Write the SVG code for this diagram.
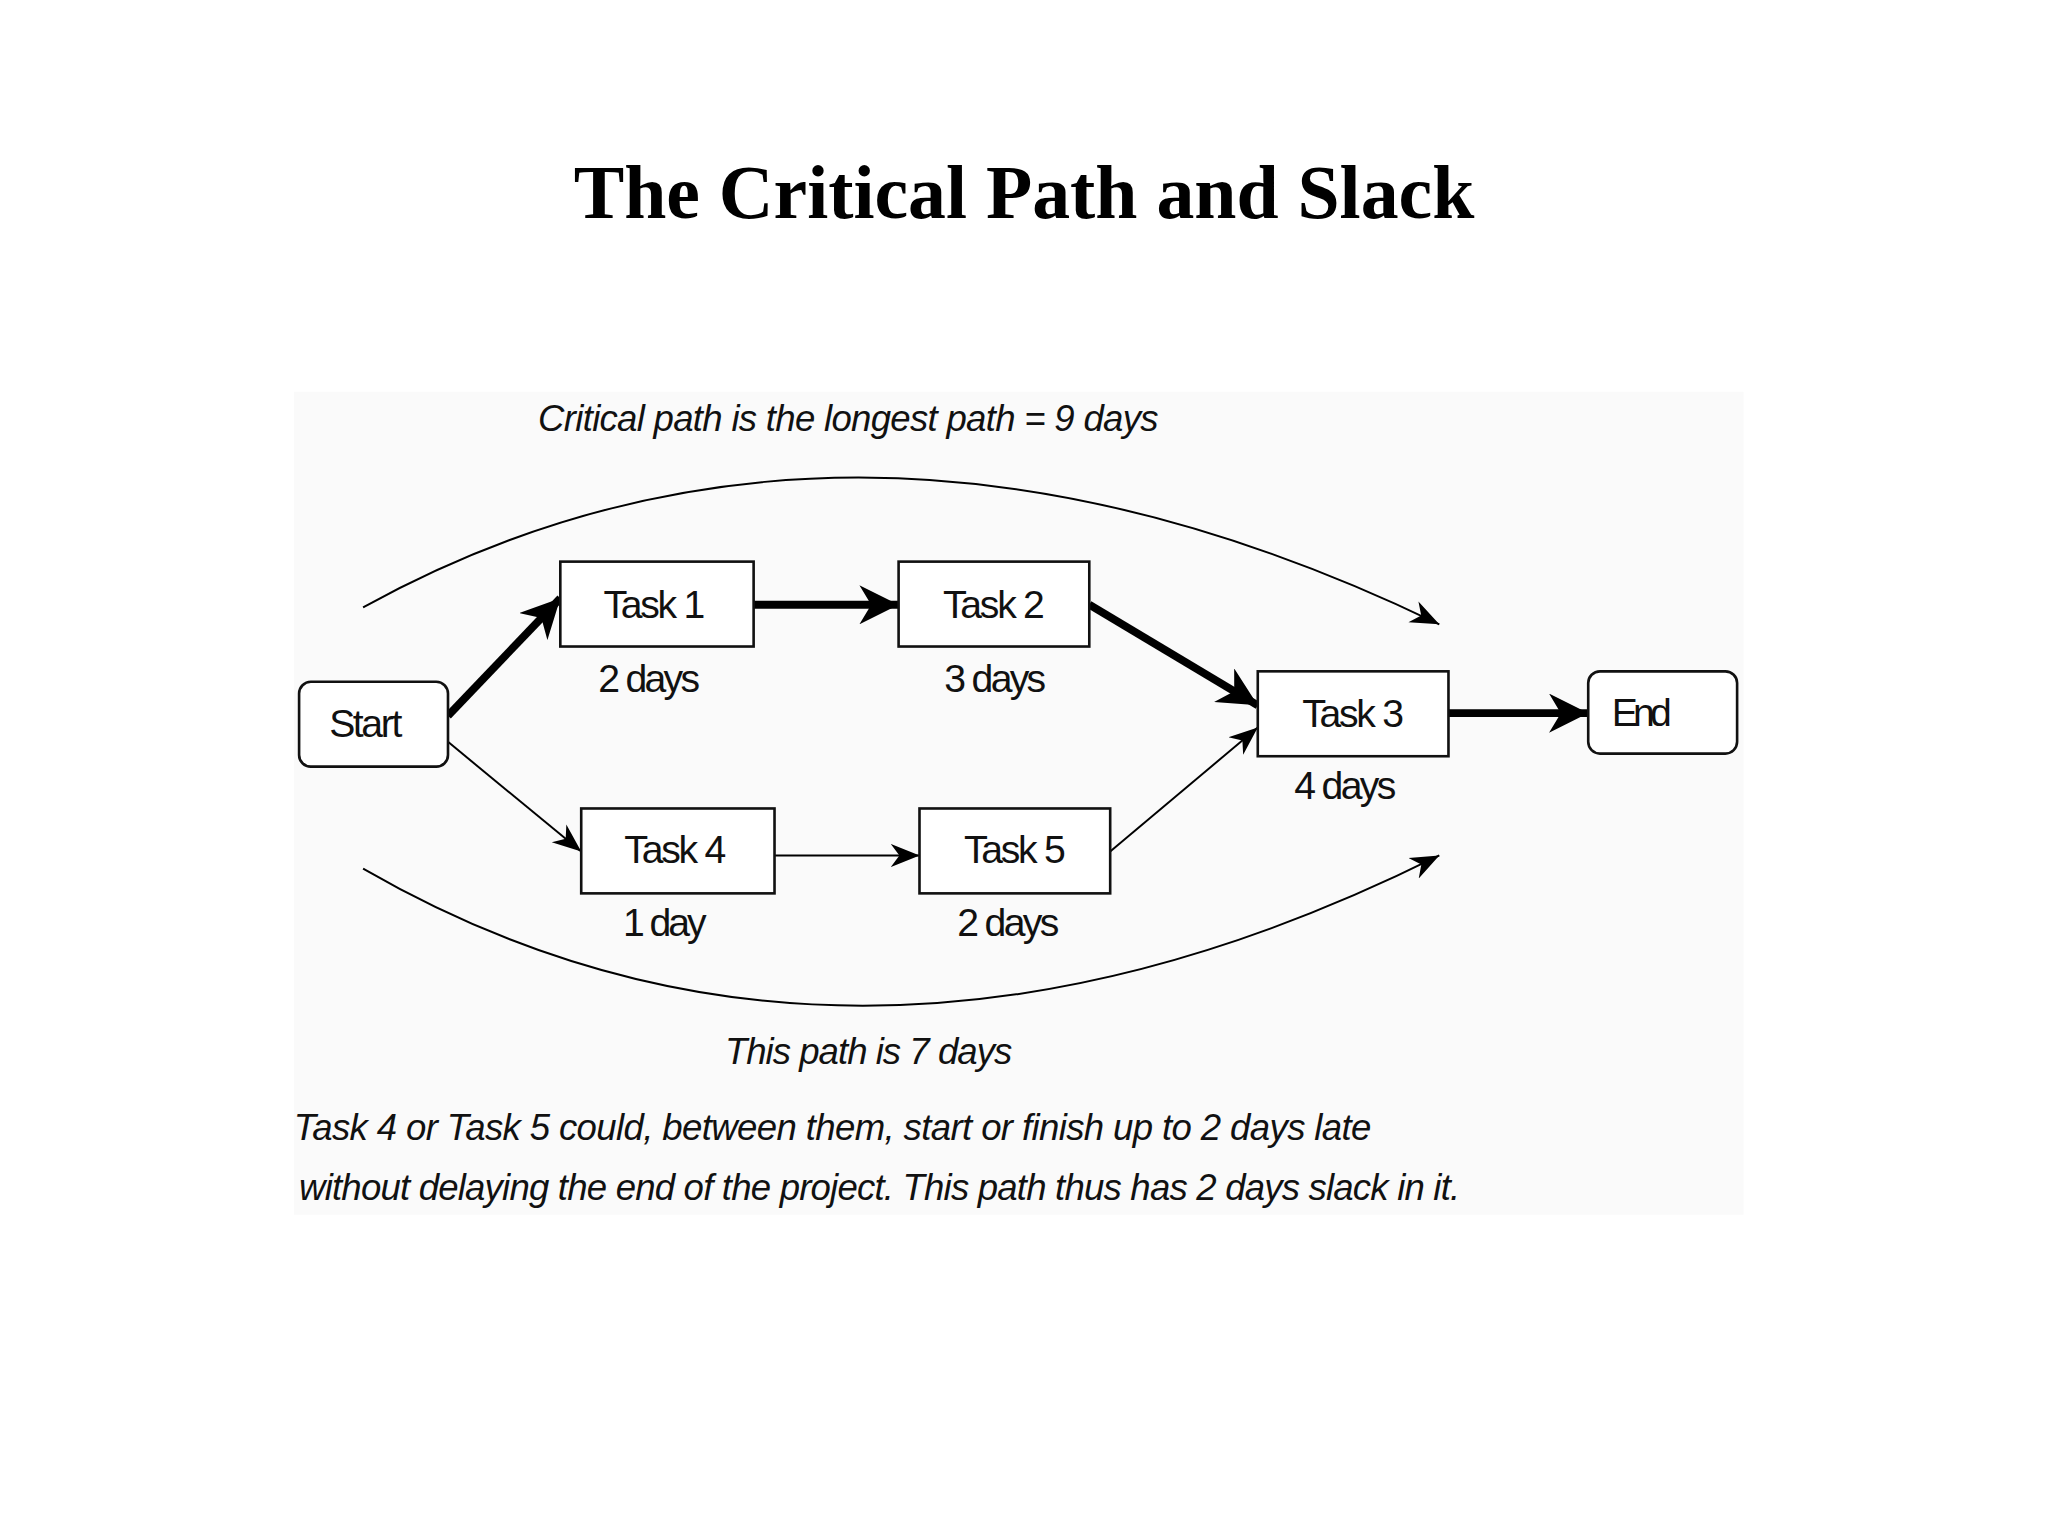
<svg xmlns="http://www.w3.org/2000/svg" width="2048" height="1536" viewBox="0 0 2048 1536">
<defs>
<style>
.b{fill:#fff;stroke:#111;stroke-width:2}
.t{font-family:"Liberation Sans",Arial,sans-serif;font-size:30px;fill:#111;text-anchor:middle}
.i{font-family:"Liberation Sans",Arial,sans-serif;font-size:28px;font-style:italic;fill:#111}
.thick{stroke:#000;stroke-width:6;fill:none}
.thin{stroke:#000;stroke-width:1.5;fill:none}
</style>
<marker id="ah" viewBox="0 0 10 10" refX="10" refY="5" markerWidth="5" markerHeight="5" orient="auto" markerUnits="strokeWidth"><path d="M0,0L10,5L0,10L3,5z" fill="#000"/></marker>
<marker id="as" viewBox="0 0 10 10" refX="10" refY="5" markerWidth="22" markerHeight="22" orient="auto" markerUnits="userSpaceOnUse"><path d="M0,1L10,5L0,9L3,5z" fill="#000"/></marker>
</defs>
<rect width="2048" height="1536" fill="#fff"/>
<g transform="scale(1.3061)">
<rect x="225" y="300" width="1110" height="630" fill="#fafafa"/>
<text x="784" y="167" text-anchor="middle" font-family="'Liberation Serif','DejaVu Serif',serif" font-weight="bold" font-size="58" fill="#000">The Critical Path and Slack</text>
<g id="connectors">
<line class="thick" x1="343" y1="548" x2="429" y2="458" marker-end="url(#ah)"/>
<line class="thick" x1="577" y1="463" x2="688" y2="463" marker-end="url(#ah)"/>
<line class="thick" x1="834" y1="463" x2="963" y2="540" marker-end="url(#ah)"/>
<line class="thick" x1="1109" y1="546" x2="1216" y2="546" marker-end="url(#ah)"/>
<line class="thin" x1="343" y1="568" x2="445" y2="652" marker-end="url(#as)"/>
<line class="thin" x1="593" y1="655" x2="704" y2="655" marker-end="url(#as)"/>
<line class="thin" x1="850" y1="652" x2="963" y2="557" marker-end="url(#as)"/>
<path class="thin" d="M278,465 Q650,260 1102,478" marker-end="url(#as)"/>
<path class="thin" d="M278,665 Q650,880 1102,655" marker-end="url(#as)"/>
</g>
<g id="start"><rect class="b" x="229" y="522" width="114" height="65" rx="9"/><text class="t" x="280" y="564" textLength="56">Start</text></g>
<g id="task1"><rect class="b" x="429" y="430" width="148" height="65"/><text class="t" x="501" y="473" textLength="78">Task 1</text><text class="t" x="497" y="530" textLength="78">2 days</text></g>
<g id="task2"><rect class="b" x="688" y="430" width="146" height="65"/><text class="t" x="761" y="473" textLength="78">Task 2</text><text class="t" x="762" y="530" textLength="78">3 days</text></g>
<g id="task3"><rect class="b" x="963" y="514" width="146" height="65"/><text class="t" x="1036" y="557" textLength="78">Task 3</text><text class="t" x="1030" y="612" textLength="78">4 days</text></g>
<g id="end"><rect class="b" x="1216" y="514" width="114" height="63" rx="9"/><text class="t" x="1257" y="556" textLength="46">End</text></g>
<g id="task4"><rect class="b" x="445" y="619" width="148" height="65"/><text class="t" x="517" y="661" textLength="78">Task 4</text><text class="t" x="509" y="717" textLength="64">1 day</text></g>
<g id="task5"><rect class="b" x="704" y="619" width="146" height="65"/><text class="t" x="777" y="661" textLength="78">Task 5</text><text class="t" x="772" y="717" textLength="78">2 days</text></g>
<text class="i" x="412" y="330" textLength="475">Critical path is the longest path = 9 days</text>
<text class="i" x="555" y="815" textLength="220">This path is 7 days</text>
<text class="i" x="225" y="873" textLength="825">Task 4 or Task 5 could, between them, start or finish up to 2 days late</text>
<text class="i" x="229" y="919" textLength="889">without delaying the end of the project. This path thus has 2 days slack in it.</text>
</g>
</svg>
